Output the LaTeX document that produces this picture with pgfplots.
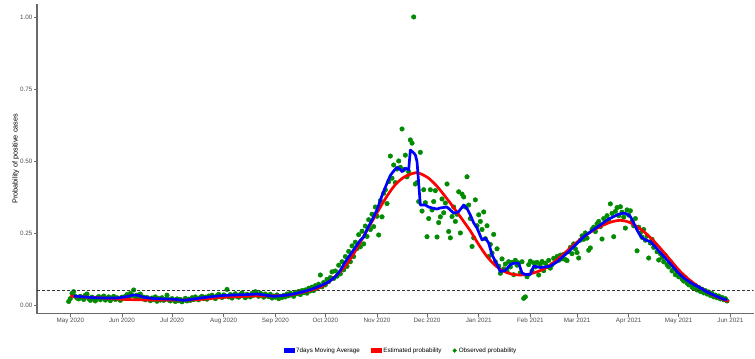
\documentclass[border=0pt]{standalone}
\usepackage{fontspec}
\setmainfont{Liberation Sans}
\usepackage{pgfplots}
\pgfplotsset{compat=1.18}
\definecolor{obsgreen}{RGB}{0,139,0}
\definecolor{axisgray}{RGB}{105,105,105}
\definecolor{ticktext}{RGB}{77,77,77}
\newcommand{\ticksize}{\fontsize{6.3}{7}\selectfont}

\begin{document}
\begin{tikzpicture}
\useasboundingbox (0,0) rectangle (755bp,359bp);
\begin{axis}[
  at={(37bp,45.4bp)}, anchor=south west,
  scale only axis, width=716.7bp, height=309.6bp,
  xmin=-20, xmax=410, ymin=-0.03, ymax=1.045,
  clip mode=individual,
  axis lines=left,
  axis line style={-, axisgray, line width=1.3bp},
  tick style={axisgray, line width=0.8bp},
  tick align=outside, major tick length=3bp,
  xtick={0,31,61,92,123,153,184,214,245,276,304,335,365,396},
  xticklabels={May 2020,Jun 2020,Jul 2020,Aug 2020,Sep 2020,Oct 2020,Nov 2020,Dec 2020,Jan 2021,Feb 2021,Mar 2021,Apr 2021,May 2021,Jun 2021},
  ytick={0,0.25,0.5,0.75,1},
  yticklabels={0.00,0.25,0.50,0.75,1.00},
  ticklabel style={font=\ticksize, text=ticktext},
  xticklabel style={inner sep=1.5bp},
  yticklabel style={inner sep=1.5bp},
  ylabel={Probability of positive cases},
  every axis y label/.style={at={(axis description cs:-0.0295,0.5)}, rotate=90, anchor=center,
    font=\fontsize{7.3}{8}\selectfont},
  legend style={at={(0.508,-0.1195)}, anchor=center, draw=none, fill=none,
    font=\ticksize, legend columns=3,
    /tikz/every even column/.append style={column sep=9bp}},
  legend cell align=left,
]
% legend keys
\addlegendimage{legend image code/.code={\fill[blue] (0bp,-2bp) rectangle (10bp,2bp);}}
\addlegendentry{7days Moving Average}
\addlegendimage{legend image code/.code={\fill[red] (0bp,-2bp) rectangle (10bp,2bp);}}
\addlegendentry{Estimated probability}
\addlegendimage{legend image code/.code={\fill[obsgreen] (5bp,0bp) circle (1.9bp);}}
\addlegendentry{Observed probability}

% observed daily probability
\addplot[only marks, mark=*, mark size=2.3bp, obsgreen, mark options={draw=none, fill=obsgreen}, forget plot] coordinates {
(-1,0.012)(0,0.022)(1,0.040)(2,0.046)(3,0.030)(4,0.024)(5,0.021)(6,0.030)(7,0.026)(8,0.019)(9,0.034)
(10,0.038)(11,0.022)(12,0.016)(13,0.027)(14,0.020)(15,0.014)(16,0.024)(17,0.029)(18,0.018)(19,0.026)
(20,0.031)(21,0.017)(22,0.023)(23,0.028)(24,0.015)(25,0.022)(26,0.030)(27,0.019)(28,0.025)(29,0.021)
(30,0.016)(31,0.027)(32,0.023)(33,0.030)(34,0.036)(35,0.028)(36,0.040)(37,0.033)(38,0.052)(39,0.029)
(40,0.034)(41,0.024)(42,0.038)(43,0.022)(44,0.027)(45,0.018)(46,0.026)(47,0.021)(48,0.015)(49,0.024)
(50,0.019)(51,0.028)(52,0.013)(53,0.022)(54,0.017)(55,0.025)(56,0.016)(57,0.020)(58,0.034)(59,0.018)
(60,0.014)(61,0.022)(62,0.017)(63,0.012)(64,0.021)(65,0.015)(66,0.019)(67,0.011)(68,0.017)(69,0.023)
(70,0.014)(71,0.020)(72,0.016)(73,0.025)(74,0.019)(75,0.028)(76,0.021)(77,0.018)(78,0.026)(79,0.030)
(80,0.022)(81,0.027)(82,0.020)(83,0.031)(84,0.025)(85,0.034)(86,0.028)(87,0.022)(88,0.032)(89,0.037)
(90,0.029)(91,0.026)(92,0.035)(93,0.031)(94,0.054)(95,0.028)(96,0.036)(97,0.024)(98,0.033)(99,0.039)
(100,0.030)(101,0.027)(102,0.036)(103,0.042)(104,0.031)(105,0.025)(106,0.037)(107,0.033)(108,0.028)(109,0.040)
(110,0.034)(111,0.046)(112,0.036)(113,0.030)(114,0.041)(115,0.035)(116,0.027)(117,0.038)(118,0.032)(119,0.029)
(120,0.037)(121,0.024)(122,0.031)(123,0.027)(124,0.035)(125,0.022)(126,0.030)(127,0.026)(128,0.033)(129,0.028)
(130,0.038)(131,0.032)(132,0.041)(133,0.035)(134,0.030)(135,0.044)(136,0.039)(137,0.047)(138,0.036)(139,0.050)
(140,0.043)(141,0.052)(142,0.041)(143,0.058)(144,0.049)(145,0.062)(146,0.050)(147,0.067)(148,0.057)(149,0.072)
(150,0.104)(151,0.063)(152,0.078)(153,0.070)(154,0.089)(155,0.081)(156,0.095)(157,0.115)(158,0.092)(159,0.118)
(160,0.100)(161,0.138)(162,0.108)(163,0.150)(164,0.122)(165,0.168)(166,0.134)(167,0.186)(168,0.150)(169,0.205)
(170,0.168)(171,0.218)(172,0.196)(173,0.244)(174,0.202)(175,0.256)(176,0.212)(177,0.274)(178,0.238)(179,0.296)
(180,0.262)(181,0.315)(182,0.272)(183,0.340)(184,0.308)(185,0.243)(186,0.362)(187,0.306)(188,0.388)(189,0.400)
(190,0.352)(191,0.428)(192,0.517)(193,0.440)(194,0.486)(195,0.425)(196,0.472)(197,0.500)(198,0.478)(199,0.611)
(200,0.470)(201,0.520)(202,0.445)(203,0.462)(204,0.573)(205,0.562)(206,1.000)(207,0.420)(208,0.425)(209,0.359)
(210,0.530)(211,0.326)(212,0.400)(213,0.355)(214,0.237)(215,0.300)(216,0.400)(217,0.330)(218,0.359)(219,0.397)
(220,0.236)(221,0.286)(222,0.306)(223,0.368)(224,0.320)(225,0.354)(226,0.420)(227,0.255)(228,0.233)(229,0.307)
(230,0.340)(231,0.290)(232,0.315)(233,0.393)(234,0.250)(235,0.385)(236,0.375)(237,0.340)(238,0.445)(239,0.347)
(240,0.300)(241,0.203)(242,0.233)(243,0.365)(244,0.275)(245,0.313)(246,0.290)(247,0.262)(248,0.323)(249,0.230)
(250,0.275)(251,0.168)(252,0.210)(253,0.180)(254,0.245)(255,0.150)(256,0.195)(257,0.135)(258,0.110)(259,0.160)
(260,0.125)(261,0.142)(262,0.118)(263,0.150)(264,0.132)(265,0.148)(266,0.105)(267,0.155)(268,0.138)(269,0.146)
(270,0.112)(271,0.150)(272,0.023)(273,0.028)(274,0.098)(275,0.140)(276,0.152)(277,0.118)(278,0.146)(279,0.132)
(280,0.148)(281,0.104)(282,0.142)(283,0.151)(284,0.119)(285,0.145)(286,0.133)(287,0.155)(288,0.128)(289,0.140)
(290,0.162)(291,0.150)(292,0.168)(293,0.155)(294,0.173)(295,0.160)(296,0.176)(297,0.158)(298,0.154)(299,0.185)
(300,0.200)(301,0.178)(302,0.212)(303,0.195)(304,0.182)(305,0.163)(306,0.225)(307,0.240)(308,0.228)(309,0.250)
(310,0.232)(311,0.190)(312,0.198)(313,0.262)(314,0.270)(315,0.255)(316,0.282)(317,0.290)(318,0.272)(319,0.229)
(320,0.300)(321,0.285)(322,0.310)(323,0.296)(324,0.351)(325,0.318)(326,0.237)(327,0.325)(328,0.338)(329,0.310)
(330,0.341)(331,0.322)(332,0.305)(333,0.267)(334,0.330)(335,0.312)(336,0.327)(337,0.290)(338,0.275)(339,0.300)
(340,0.188)(341,0.270)(342,0.250)(343,0.235)(344,0.262)(345,0.225)(346,0.240)(347,0.163)(348,0.215)(349,0.228)
(350,0.200)(351,0.210)(352,0.185)(353,0.156)(354,0.178)(355,0.165)(356,0.150)(357,0.172)(358,0.140)(359,0.132)
(360,0.150)(361,0.118)(362,0.125)(363,0.105)(364,0.115)(365,0.098)(366,0.108)(367,0.090)(368,0.083)(369,0.095)
(370,0.076)(371,0.070)(372,0.080)(373,0.062)(374,0.058)(375,0.068)(376,0.052)(377,0.061)(378,0.047)(379,0.055)
(380,0.042)(381,0.050)(382,0.038)(383,0.045)(384,0.033)(385,0.040)(386,0.028)(387,0.034)(388,0.025)(389,0.031)
(390,0.021)(391,0.026)(392,0.018)(393,0.022)(394,0.014)
};

% 5% reference level
\addplot[black!80, line width=0.6bp, dash pattern=on 3bp off 2bp, forget plot] coordinates {(-20,0.05)(410,0.05)};

% model estimate
\addplot[red, line width=2.7bp, smooth, forget plot] coordinates {
(0,0.031)(10,0.027)(20,0.024)(30,0.020)(40,0.018)(50,0.017)(60,0.017)(70,0.017)(80,0.020)(90,0.026)
(100,0.029)(110,0.031)(120,0.031)(130,0.034)(135,0.038)(140,0.045)(145,0.052)(150,0.062)(155,0.080)
(160,0.105)(165,0.135)(170,0.178)(175,0.228)(180,0.280)(185,0.330)(190,0.378)(195,0.418)(200,0.443)
(205,0.456)(207,0.459)(210,0.456)(215,0.440)(220,0.412)(225,0.376)(230,0.338)(235,0.298)(240,0.257)
(245,0.210)(250,0.168)(255,0.137)(260,0.117)(265,0.107)(270,0.104)(275,0.107)(280,0.115)(285,0.128)
(290,0.148)(295,0.172)(300,0.198)(305,0.223)(310,0.245)(315,0.263)(320,0.278)(325,0.289)(330,0.294)
(335,0.288)(340,0.272)(345,0.250)(350,0.222)(355,0.190)(360,0.156)(365,0.122)(370,0.094)(375,0.071)
(380,0.052)(385,0.036)(390,0.023)(395,0.012)
};

% seven-day moving average
\addplot[blue, line width=2.7bp, line join=round, forget plot] coordinates {
(2,0.031)(8,0.028)(15,0.025)(22,0.024)(28,0.024)(34,0.029)(38,0.035)(41,0.033)(44,0.027)(50,0.022)
(56,0.021)(62,0.020)(68,0.016)(73,0.020)(78,0.024)(85,0.029)(92,0.033)(100,0.035)(106,0.036)(112,0.038)
(117,0.034)(122,0.030)(128,0.033)(134,0.038)(139,0.045)(145,0.055)(151,0.069)(155,0.080)(159,0.098)
(162,0.120)(165,0.150)(168,0.175)(171,0.200)(174,0.225)(176,0.236)(178,0.262)(181,0.295)(184,0.330)
(187,0.380)(190,0.423)(192,0.450)(194,0.465)(196,0.478)(198,0.470)(199,0.463)(201,0.475)(203,0.469)
(204,0.538)(206,0.528)(207,0.521)(208,0.498)(210,0.347)(213,0.347)(215,0.340)(217,0.337)(220,0.333)
(222,0.337)(226,0.340)(230,0.319)(233,0.324)(236,0.347)(238,0.335)(240,0.312)(242,0.285)(244,0.267)
(247,0.226)(249,0.232)(251,0.215)(253,0.174)(256,0.140)(258,0.116)(261,0.120)(264,0.140)(266,0.145)
(269,0.145)(271,0.111)(273,0.106)(276,0.106)(278,0.135)(282,0.130)(285,0.132)(288,0.135)(292,0.150)
(295,0.165)(298,0.180)(303,0.208)(308,0.237)(313,0.258)(318,0.278)(322,0.295)(326,0.307)(329,0.315)
(332,0.319)(334,0.316)(336,0.307)(338,0.285)(340,0.260)(342,0.240)(344,0.229)(346,0.224)(348,0.220)
(352,0.195)(355,0.175)(358,0.156)(362,0.130)(365,0.110)(368,0.094)(372,0.078)(375,0.068)(378,0.059)
(382,0.045)(385,0.037)(388,0.029)(391,0.022)(394,0.017)
};
\end{axis}
\end{tikzpicture}
\end{document}
